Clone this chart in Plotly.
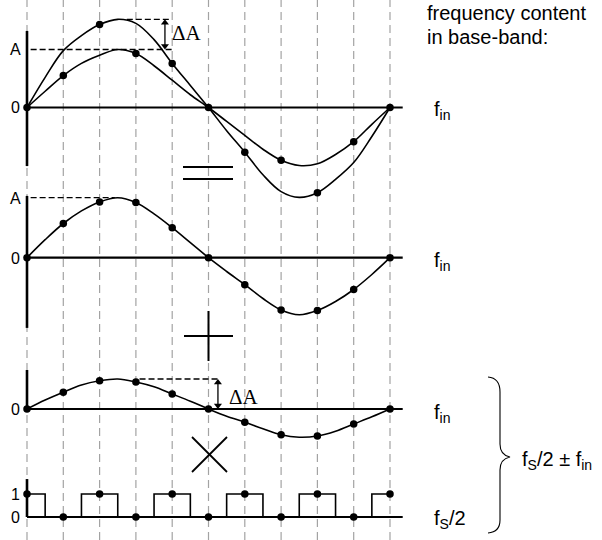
import plotly.graph_objects as go

W, H = 602, 540
X0_PX, DX_PX = 27.0, 36.3          # pixel column of sample 0 and sample spacing

# ---------------- data ----------------
samples = [0, 1, 2, 3, 4, 5, 6, 7, 8, 9, 10]
t_curve = [0, 0.5, 1, 1.5, 2, 2.5, 3, 3.5, 4, 4.5, 5,
           5.5, 6, 6.5, 7, 7.5, 8, 8.5, 9, 9.5, 10]

# panel 1: sum signal (A + dA) and the plain sine (amplitude A)
p1_big = [0, 0.52, 0.98, 1.24, 1.43, 1.52, 1.45, 1.17, 0.76, 0.38, 0,
          -0.40, -0.77, -1.16, -1.45, -1.55, -1.47, -1.24, -0.95, -0.50, 0]
p1_small = [0, 0.28, 0.55, 0.76, 0.90, 1.00, 0.93, 0.72, 0.47, 0.22, 0,
            -0.24, -0.48, -0.72, -0.91, -1.00, -0.97, -0.81, -0.59, -0.29, 0]
p1_dots = [0, 0.55, 1.43, 0.93, 0.76, 0, -0.77, -0.91, -1.47, -0.59, 0]

# panel 2: sine of amplitude A
p2_curve = [0, 0.30, 0.57, 0.78, 0.93, 1.00, 0.92, 0.73, 0.50, 0.25, 0,
            -0.23, -0.45, -0.68, -0.87, -0.95, -0.88, -0.73, -0.53, -0.28, 0]
p2_dots = [0, 0.57, 0.93, 0.92, 0.50, 0, -0.45, -0.87, -0.88, -0.53, 0]

# panel 3: sine of amplitude dA
p3_curve = [0, 0.15, 0.28, 0.40, 0.47, 0.50, 0.45, 0.37, 0.25, 0.13, 0,
            -0.12, -0.22, -0.33, -0.43, -0.47, -0.45, -0.37, -0.25, -0.13, 0]
p3_dots = [0, 0.28, 0.47, 0.45, 0.25, 0, -0.22, -0.43, -0.45, -0.25, 0]

# panel 4: fs/2 square wave
p4_edges = [0, 0.5, 1.5, 2.5, 3.5, 4.5, 5.5, 6.5, 7.5, 8.5, 9.5, 10]
p4_levels = [1, 0, 1, 0, 1, 0, 1, 0, 1, 0, 1, 1]
p4_dots = [1, 0, 1, 0, 1, 0, 1, 0, 1, 0, 1]

A_level = 1.0
dA_level = 0.5
sum_peak = 1.52

# ---------------- geometry helpers ----------------
# pixel row of each panel's zero line and pixels per unit
panels = {"y": (107.5, 58.0), "y2": (257.7, 60.0), "y3": (409.0, 60.0), "y4": (517.0, 23.0)}


def pp(xp, yp):
    return xp / W, 1 - yp / H


BLACK = "#000000"
LW = 1.6

fig = go.Figure()


def curve(x, y, yax):
    fig.add_trace(go.Scatter(x=x, y=y, yaxis=yax, mode="lines",
                             line=dict(color=BLACK, width=LW, shape="spline", smoothing=1.0),
                             hoverinfo="skip", showlegend=False))


def dots(x, y, yax):
    fig.add_trace(go.Scatter(x=x, y=y, yaxis=yax, mode="markers",
                             marker=dict(color=BLACK, size=7.5),
                             hoverinfo="skip", showlegend=False))


curve(t_curve, p1_big, "y")
curve(t_curve, p1_small, "y")
dots(samples, p1_dots, "y")
curve(t_curve, p2_curve, "y2")
dots(samples, p2_dots, "y2")
curve(t_curve, p3_curve, "y3")
dots(samples, p3_dots, "y3")
fig.add_trace(go.Scatter(x=p4_edges, y=p4_levels, yaxis="y4", mode="lines",
                         line=dict(color=BLACK, width=LW, shape="hv"),
                         hoverinfo="skip", showlegend=False))
dots(samples, p4_dots, "y4")

shapes = []
# dashed grey sample lines
for s in samples:
    shapes.append(dict(type="line", xref="x", yref="paper", x0=s, x1=s, y0=0, y1=1,
                       line=dict(color="#a3a3a3", width=1.2, dash="8px,5px"), layer="below"))

# zero lines and left axes
axis_extent = {"y": (-1.01, 1.32), "y2": (-1.17, 1.03), "y3": (0, 0.65), "y4": (0, 1.65)}
for yax, (lo, hi) in axis_extent.items():
    shapes.append(dict(type="line", xref="x", yref=yax, x0=0, x1=10.35, y0=0, y1=0,
                       line=dict(color=BLACK, width=2.2), layer="below"))
    shapes.append(dict(type="line", xref="x", yref=yax, x0=0, x1=0, y0=lo, y1=hi,
                       line=dict(color=BLACK, width=2.6), layer="below"))


# dashed black reference levels
def dline(x0, x1, y, yax):
    shapes.append(dict(type="line", xref="x", yref=yax, x0=x0, x1=x1, y0=y, y1=y,
                       line=dict(color=BLACK, width=1.3, dash="6px,3px")))


dline(0.1, 4.0, A_level, "y")
dline(2.75, 3.95, sum_peak, "y")
dline(0.1, 2.42, A_level, "y2")
dline(3.1, 5.3, dA_level, "y3")


# double arrows for delta A (shaft as shape, heads as triangle markers)
def double_arrow(x, lo, hi, yax, px_per_unit):
    inset = 3.5 / px_per_unit
    shapes.append(dict(type="line", xref="x", yref=yax, x0=x, x1=x, y0=lo + inset, y1=hi - inset,
                       line=dict(color=BLACK, width=1.3)))
    fig.add_trace(go.Scatter(x=[x, x], y=[hi - inset, lo + inset], yaxis=yax, mode="markers",
                             marker=dict(symbol=["triangle-up", "triangle-down"], size=7,
                                         color=BLACK, line=dict(width=0)),
                             hoverinfo="skip", showlegend=False))


double_arrow(3.80, A_level, sum_peak, "y", panels["y"][1])
double_arrow(5.26, 0, dA_level, "y3", panels["y3"][1])


# operator symbols (=, +, x) and the brace, drawn in pixel space
def pline(x0, y0, x1, y1, w=2.0):
    a, b = pp(x0, y0)
    c, d = pp(x1, y1)
    shapes.append(dict(type="line", xref="paper", yref="paper", x0=a, y0=b, x1=c, y1=d,
                       line=dict(color=BLACK, width=w)))


pline(183, 167, 233, 167)
pline(183, 179, 233, 179)
pline(184, 336, 233, 336)
pline(208.5, 311, 208.5, 361)
pline(192, 437, 227, 472, 1.8)
pline(227, 437, 192, 472, 1.8)

brace_pts = [("M", 488, 377), ("Q", 500, 378), ("", 500, 392), ("L", 500, 444),
             ("Q", 500, 455), ("", 510, 457), ("Q", 500, 459), ("", 500, 470),
             ("L", 500, 520), ("Q", 500, 532), ("", 488, 533)]
path = ""
for cmd, xp, yp in brace_pts:
    a, b = pp(xp, yp)
    path += f"{cmd}{a:.5f},{b:.5f} "
shapes.append(dict(type="path", xref="paper", yref="paper", path=path.strip(),
                   line=dict(color=BLACK, width=1.1)))

annotations = []
SANS = "Liberation Sans, Arial, sans-serif"
SERIF = "Liberation Serif, Times New Roman, serif"


def label(text, xp, yp, size=20, family=SANS, xanchor="left"):
    a, b = pp(xp, yp)
    annotations.append(dict(x=a, y=b, xref="paper", yref="paper", text=text, showarrow=False,
                            xanchor=xanchor, yanchor="middle",
                            font=dict(family=family, size=size, color=BLACK)))


label("ΔA", 170, 33, 21, SERIF)
label("ΔA", 227, 397, 21, SERIF)

for txt, yp in [("A", 49), ("0", 107.5), ("A", 198), ("0", 258), ("0", 409), ("1", 494), ("0", 517)]:
    label(txt, 15.5, yp, 16, SANS, "center")

label("frequency content", 425, 13)
label("in base-band:", 425, 37)
label("f<sub>in</sub>", 432, 111)
label("f<sub>in</sub>", 432, 261)
label("f<sub>in</sub>", 432, 413)
label("f<sub>S</sub>/2", 432, 519)
label("f<sub>S</sub>/2 ± f<sub>in</sub>", 520, 460)

layout_axes = {}
for yax, (y0, s) in panels.items():
    key = "yaxis" if yax == "y" else "yaxis" + yax[1:]
    cfg = dict(range=[(y0 - H) / s, y0 / s], visible=False, fixedrange=True)
    if yax != "y":
        cfg["overlaying"] = "y"
    layout_axes[key] = cfg

fig.update_layout(
    width=W, height=H, autosize=False,
    margin=dict(l=0, r=0, t=0, b=0, pad=0),
    paper_bgcolor="white", plot_bgcolor="white",
    xaxis=dict(range=[-X0_PX / DX_PX, (W - X0_PX) / DX_PX], visible=False, fixedrange=True),
    shapes=shapes, annotations=annotations, showlegend=False,
    **layout_axes,
)

fig.write_html("out.html")
